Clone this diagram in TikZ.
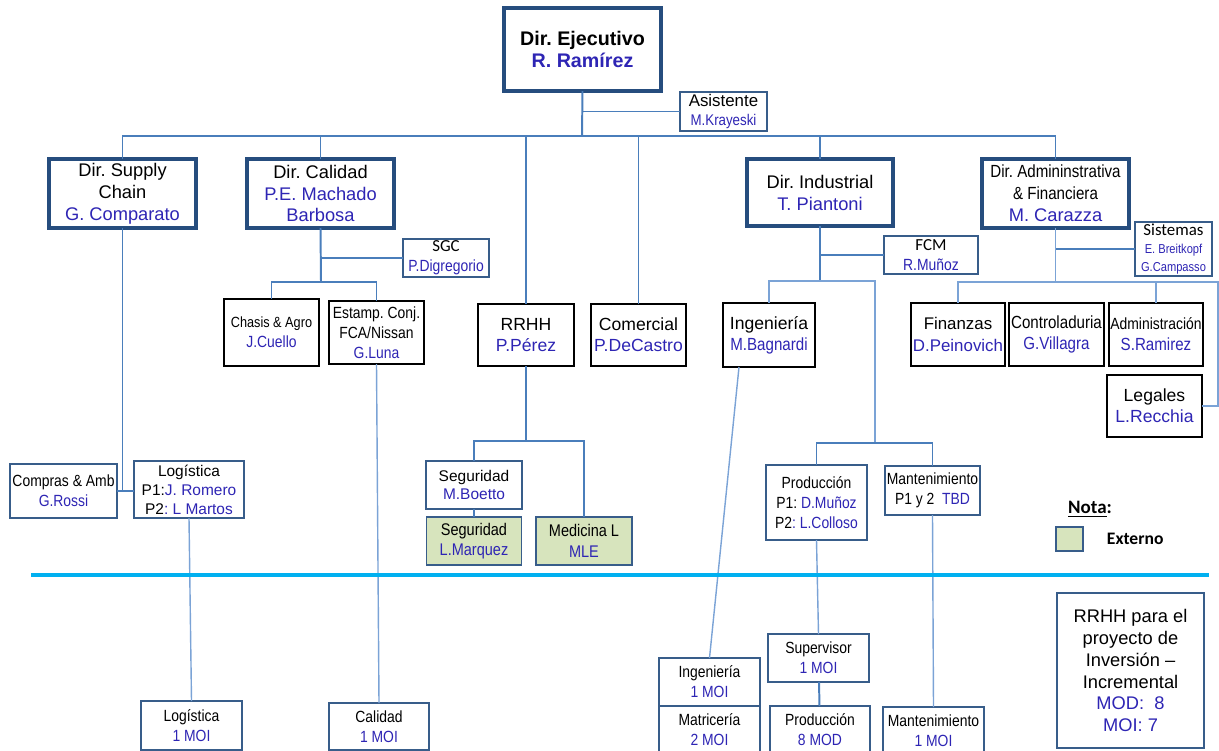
\documentclass[tikz,border=0pt]{standalone}
\usepackage{fontspec}
\setmainfont{Liberation Sans}
\newfontfamily\nfont[FakeStretch=0.86]{Liberation Sans}
\newfontfamily\cfont{Carlito}
\usepackage{tikz}
\usetikzlibrary{positioning,calc}
\definecolor{dirblue}{HTML}{264D7E}
\definecolor{boxblue}{HTML}{385D8A}
\definecolor{linkblue}{HTML}{4A7EBB}
\definecolor{lightblue}{HTML}{7BA3D6}
\definecolor{namecol}{HTML}{2E25B4}
\definecolor{extgreen}{HTML}{D7E4BD}
\definecolor{sepcyan}{HTML}{00B0F0}
\newcommand\pu{0.025cm}
\newcommand\nm[1]{\textcolor{namecol}{#1}}
\newcommand\fA{\fontsize{13}{15.6}\selectfont}
\newcommand\fB{\fontsize{12.5}{15}\selectfont}
\newcommand\fC{\nfont\fontsize{11.5}{14.2}\selectfont}
\newcommand\fS{\nfont\fontsize{9.2}{12}\selectfont}
\frenchspacing

\begin{document}
\begin{tikzpicture}[x=\pu, y=-\pu,
  wh/.style 2 args={minimum width=#1*\pu, minimum height=#2*\pu},
  dirbox/.style={draw=dirblue, line width=2.8pt, fill=white, align=center, inner sep=0pt, outer sep=0pt, font=\fA},
  blkbox/.style={draw=black, line width=2.1pt, fill=white, align=center, inner sep=0pt, outer sep=0pt, font=\fB},
  subbox/.style={draw=boxblue, line width=1.3pt, fill=white, align=center, inner sep=0pt, outer sep=0pt, font=\fC},
  extbox/.style={subbox, fill=extgreen},
  link/.style={draw=linkblue, line width=1.4pt},
  thinlink/.style={draw=lightblue, line width=1pt},
  sepline/.style={draw=sepcyan, line width=3pt}]
  \useasboundingbox (0,0) rectangle (1219,751);

  \node[dirbox, wh={157}{83}, font=\bfseries\fontsize{14}{15.6}\selectfont] (ceo) at (582.5,49.5) {Dir. Ejecutivo\\\nm{R. Ramírez}};
  \node[subbox, wh={87}{39}, font=\fontsize{12}{14}\selectfont] (asist) at (723.5,111.5) {Asistente\\{\nfont\fontsize{11}{14}\selectfont\nm{M.Krayeski}}};

  \node[dirbox, wh={147}{69}] (supply) at (122.5,193.5) {Dir. Supply\\Chain\\\nm{G. Comparato}};
  \node[dirbox, wh={147}{69}] (calidad) at (320.5,193.5) {Dir. Calidad\\\nm{P.E. Machado}\\\nm{Barbosa}};
  \node[dirbox, wh={146}{67}] (indus) at (820,192.5) {Dir. Industrial\\\nm{T. Piantoni}};
  \node[dirbox, wh={147}{69}] (admin) at (1055.5,193.5) {{\nfont\fontsize{12.5}{15.6}\selectfont Dir. Admininstrativa}\\{\nfont\fontsize{12.5}{15.6}\selectfont\& Financiera}\\\nm{M. Carazza}};

  \node[subbox, wh={86}{38}, font=\cfont\fontsize{12}{14}\selectfont] (sgc) at (446,258) {SGC\\{\fC\nm{P.Digregorio}}};
  \node[blkbox, wh={95}{67}, font=\fC] (chasis) at (271.5,332.5) {{\fontsize{10.5}{15}\selectfont Chasis \& Agro}\\\nm{J.Cuello}};
  \node[blkbox, wh={95}{63}, font=\fC] (estamp) at (376.5,332.5) {Estamp. Conj.\\FCA/Nissan\\\nm{G.Luna}};
  \node[blkbox, wh={96}{62}] (rrhh) at (526,335) {RRHH\\\nm{P.Pérez}};
  \node[blkbox, wh={95}{62}] (comer) at (638.5,335) {Comercial\\\nm{P.DeCastro}};
  \node[blkbox, wh={92}{64}] (ingen) at (769,335) {Ingeniería\\{\nfont\nm{M.Bagnardi}}};
  \node[subbox, wh={94}{38}, font=\cfont\fontsize{12}{14}\selectfont] (fcm) at (931,255) {FCM\\{\fC\nm{R.Muñoz}}};
  \node[subbox, wh={77}{54}, font=\cfont\fontsize{12}{13}\selectfont] (sist) at (1173.5,249) {Sistemas\\{\fS\nm{E. Breitkopf}}\\{\fS\nm{G.Campasso}}};
  \node[blkbox, wh={94}{63}, font=\fontsize{12}{15}\selectfont] (finan) at (958,334.5) {Finanzas\\\nm{D.Peinovich}};
  \node[blkbox, wh={95}{63}, font=\nfont\fontsize{12.5}{15}\selectfont] (contr) at (1056.5,334.5) {Controladuria\\\nm{G.Villagra}};
  \node[blkbox, wh={94}{63}, font=\nfont\fontsize{12.5}{15}\selectfont] (admon) at (1156,334.5) {{\fontsize{11.5}{15}\selectfont Administración}\\\nm{S.Ramirez}};
  \node[blkbox, wh={95}{62}] (legal) at (1154.5,406) {Legales\\\nm{L.Recchia}};

  \node[subbox, wh={107}{54}] (compras) at (63.5,491) {Compras \& Amb\\\nm{G.Rossi}};
  \node[subbox, wh={110}{57}, font=\fontsize{11}{13.5}\selectfont] (logis) at (189,489.5) {Logística\\P1:\nm{J. Romero}\\P2\nm{: L Martos}};
  \node[subbox, wh={96}{48}, font=\fontsize{11}{13}\selectfont] (segur) at (474,485) {Seguridad\\\nm{M.Boetto}};
  \node[extbox, wh={95}{48}, below=5.7pt of segur, font=\nfont\fontsize{12}{14.5}\selectfont] (segext) {Seguridad\\\nm{L.Marquez}};
  \node[extbox, wh={96}{48}, font=\nfont\fontsize{12}{14.5}\selectfont] (medic) at (584,541) {Medicina L\\\nm{MLE}};
  \node[subbox, wh={101}{75}] (prod) at (816.5,502.5) {Producción\\P1: \nm{D.Muñoz}\\P2\nm{: L.Colloso}};
  \node[subbox, wh={95}{49}] (mant) at (932.5,490.5) {Mantenimiento\\P1 y 2\ \ \nm{TBD}};

  \node[subbox, wh={101}{48}] (super) at (818.5,658) {Supervisor\\\nm{1 MOI}};
  \node[subbox, wh={100}{48}] (prodmod) at (820,730) {Producción\\\nm{8 MOD}};
  \node[subbox, wh={101}{48}] (mantmoi) at (933.5,731) {Mantenimiento\\\nm{1 MOI}};
  \node[subbox, wh={101}{48}] (ingmoi) at (709.5,682) {Ingeniería\\\nm{1 MOI}};
  \node[subbox, wh={101}{48}, below=0pt of ingmoi] (matmoi) {Matricería\\\nm{2 MOI}};
  \node[subbox, wh={101}{49}] (logmoi) at (191.5,725.5) {Logística\\\nm{1 MOI}};
  \node[subbox, wh={100}{47}] (calmoi) at (379,726.5) {Calidad\\\nm{1 MOI}};
  \node[subbox, wh={147}{155}, line width=2pt, font=\fA] (rrhhinv) at (1130.5,670.5) {RRHH para el\\proyecto de\\Inversión –\\Incremental\\\nm{MOD:\ \ 8}\\\nm{MOI: 7}};

  \node[font=\cfont\bfseries\fontsize{13.5}{16}\selectfont] (nota) at (1090,509) {\underline{Nota}:};
  \node[extbox, wh={27}{24}] (leg) at (1069.5,539) {};
  \node[font=\cfont\bfseries\fontsize{12.5}{15}\selectfont, right=13.5pt of leg] (ext) {Externo};

  \coordinate (bus) at (582,136);
  \draw[link] (ceo.south) -- (bus);
  \draw[link] (asist.west) -- (asist.west -| ceo.south);
  \draw[link] (supply.north) |- (bus) -| (admin.north);
  \foreach \n in {calidad,rrhh,comer,indus}
    \draw[link] (\n.north) -- (\n.north |- bus);

  \coordinate (cb) at (321,282);
  \draw[link] (calidad.south) -- (cb);
  \draw[link] (sgc.west) -- (sgc.west -| calidad.south);
  \draw[link] (chasis.north) |- (cb) -| (estamp.north);
  \draw[thinlink] (estamp.south) -- (calmoi.north);

  \draw[link] (supply.south) -- (supply.south |- compras.east);
  \draw[link] (compras.east) -- (compras.east -| logis.west);
  \draw[thinlink] (logis.south) -- (logmoi.north);

  \coordinate (rb) at (526,441);
  \draw[link] (rrhh.south) -- (rb);
  \draw[link] (segur.north) |- (rb) -| (medic.north);
  \draw[link] (segur) -- (segext);

  \coordinate (ib) at (820,281);
  \coordinate (pb) at (875,443);
  \draw[link] (indus.south) -- (ib);
  \draw[link] (fcm.west) -- (fcm.west -| indus.south);
  \draw[thinlink] (ingen.north) |- (ib) -| (pb);
  \draw[link] (prod.north) |- (pb) -| (mant.north);
  \draw[thinlink] ($(ingen.south west)+(16,0)$) -- (ingmoi.north);
  \draw[thinlink] (prod.south) -- (super.north);
  \draw[link] (super) -- (prodmod);
  \draw[thinlink] (mant.south) -- (mantmoi.north);

  \coordinate (ar) at (1218,282);
  \draw[thinlink] (admin.south) -- (admin.south |- ar);
  \draw[link] (sist.west) -- (sist.west -| admin.south);
  \draw[thinlink] (finan.north) |- (ar) |- (legal.east);
  \draw[thinlink] (admon.north) -- (admon.north |- ar);

  \draw[sepline] (31,575) -- (1209,575);
\end{tikzpicture}
\end{document}
